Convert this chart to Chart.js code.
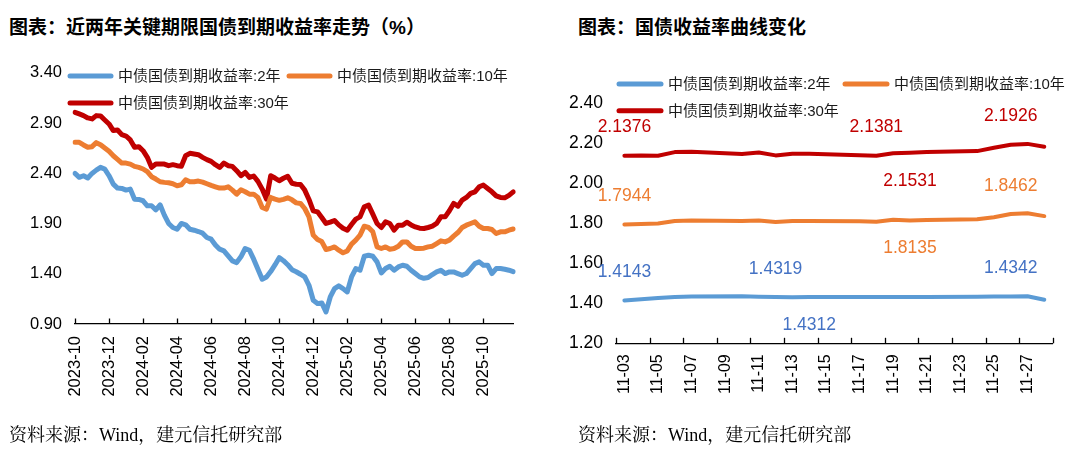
<!DOCTYPE html>
<html><head><meta charset="utf-8">
<script src="https://cdn.jsdelivr.net/npm/chart.js@4.4.1/dist/chart.umd.min.js"></script>
<style>
html,body{margin:0;padding:0;background:#fff;width:1080px;height:456px;overflow:hidden;}
.t{position:absolute;font-family:"Liberation Sans","Noto Sans CJK SC",sans-serif;font-weight:bold;font-size:19px;line-height:20px;color:#000;top:18px;white-space:nowrap;}
.src{position:absolute;font-family:"Liberation Serif","Noto Serif CJK SC","Noto Sans CJK SC",serif;font-size:18px;line-height:20px;color:#000;top:425px;white-space:nowrap;}
.box{position:absolute;top:0;height:456px;}
</style></head>
<body>
<div class="t" style="left:9px">图表：近两年关键期限国债到期收益率走势（%）</div>
<div class="t" style="left:578px">图表：国债收益率曲线变化</div>
<div class="box" style="left:0;width:545px"><canvas id="c1"></canvas></div>
<div class="box" style="left:545px;width:535px"><canvas id="c2"></canvas></div>
<div class="src" style="left:9px">资料来源：Wind，建元信托研究部</div>
<div class="src" style="left:578px">资料来源：Wind，建元信托研究部</div>
<script>
// ---------- DATA: left chart (weekly samples, 4 per month) ----------
const months = ['2023-10','2023-11','2023-12','2024-01','2024-02','2024-03','2024-04','2024-05','2024-06','2024-07','2024-08','2024-09','2024-10','2024-11','2024-12','2025-01','2025-02','2025-03','2025-04','2025-05','2025-06','2025-07','2025-08','2025-09','2025-10','2025-11'];
const tickMonths = ['2023-10','2023-12','2024-02','2024-04','2024-06','2024-08','2024-10','2024-12','2025-02','2025-04','2025-06','2025-08','2025-10'];
const leftTicks = [0.90,1.40,1.90,2.40,2.90,3.40];
const y2Left = [2.398,2.359,2.375,2.352,2.398,2.431,2.458,2.441,2.375,2.292,2.252,2.249,2.232,2.242,2.142,2.139,2.126,2.076,2.076,2.036,2.086,1.983,1.900,1.860,1.843,1.900,1.887,1.843,1.833,1.820,1.804,1.761,1.744,1.687,1.644,1.628,1.578,1.528,1.511,1.568,1.651,1.634,1.545,1.445,1.345,1.368,1.422,1.488,1.560,1.530,1.490,1.440,1.420,1.395,1.368,1.285,1.136,1.103,1.110,1.020,1.169,1.252,1.279,1.252,1.219,1.368,1.452,1.435,1.574,1.584,1.574,1.518,1.408,1.452,1.475,1.435,1.468,1.485,1.475,1.435,1.402,1.369,1.355,1.362,1.392,1.418,1.435,1.402,1.418,1.418,1.402,1.385,1.402,1.452,1.501,1.518,1.485,1.485,1.402,1.452,1.452,1.445,1.435,1.420];
const y10Left = [2.707,2.707,2.681,2.658,2.664,2.704,2.684,2.651,2.618,2.574,2.538,2.501,2.501,2.491,2.468,2.458,2.442,2.415,2.365,2.342,2.315,2.309,2.305,2.295,2.275,2.285,2.335,2.315,2.315,2.322,2.312,2.295,2.279,2.265,2.252,2.252,2.265,2.232,2.192,2.235,2.216,2.192,2.192,2.159,2.059,2.043,2.159,2.142,2.130,2.140,2.155,2.135,2.105,2.099,2.049,1.966,1.784,1.740,1.720,1.641,1.651,1.667,1.634,1.608,1.627,1.694,1.734,1.784,1.873,1.860,1.817,1.667,1.651,1.667,1.644,1.651,1.674,1.717,1.717,1.674,1.651,1.651,1.654,1.667,1.674,1.700,1.727,1.717,1.734,1.774,1.810,1.860,1.883,1.900,1.916,1.873,1.850,1.850,1.840,1.800,1.817,1.817,1.833,1.845];
const y30Left = [3.006,2.990,2.973,2.950,2.940,2.973,2.970,2.930,2.890,2.824,2.830,2.784,2.770,2.731,2.658,2.664,2.624,2.558,2.458,2.491,2.491,2.491,2.475,2.485,2.475,2.470,2.574,2.598,2.591,2.584,2.558,2.535,2.518,2.485,2.458,2.501,2.475,2.468,2.425,2.375,2.408,2.358,2.372,2.319,2.242,2.143,2.375,2.352,2.325,2.350,2.370,2.300,2.290,2.288,2.232,2.139,2.026,2.016,1.960,1.900,1.913,1.930,1.886,1.853,1.833,1.890,1.943,1.966,2.066,2.082,1.993,1.900,1.860,1.916,1.900,1.833,1.883,1.883,1.913,1.886,1.866,1.853,1.850,1.860,1.873,1.900,1.966,1.966,2.026,2.099,2.072,2.132,2.159,2.199,2.215,2.265,2.282,2.248,2.215,2.175,2.159,2.155,2.180,2.215];

// ---------- DATA: right chart (calendar days, weekends empty) ----------
const days = ['11-03','11-04','11-05','11-06','11-07','11-08','11-09','11-10','11-11','11-12','11-13','11-14','11-15','11-16','11-17','11-18','11-19','11-20','11-21','11-22','11-23','11-24','11-25','11-26','11-27','11-28'];
const rightTicks = [1.20,1.40,1.60,1.80,2.00,2.20,2.40];
const y2Right  = [1.4143,1.420,1.426,1.432,1.434,null,null,1.435,1.433,1.4319,1.430,1.4312,null,null,1.432,1.432,1.432,1.431,1.431,null,null,1.433,1.434,1.4342,1.435,1.418];
const y10Right = [1.7944,1.797,1.799,1.811,1.814,null,null,1.812,1.814,1.806,1.811,1.812,null,null,1.810,1.808,1.818,1.8135,1.816,null,null,1.820,1.830,1.8462,1.850,1.836];
const y30Right = [2.1376,2.139,2.138,2.156,2.158,null,null,2.147,2.154,2.1395,2.148,2.148,null,null,2.140,2.1381,2.150,2.1531,2.157,null,null,2.161,2.178,2.1926,2.197,2.183];
const seriesNames = ['中债国债到期收益率:2年','中债国债到期收益率:10年','中债国债到期收益率:30年'];

// ---------- styles ----------
const BLUE='#5B9BD5', ORANGE='#ED7D31', RED='#C00000';
const LABEL_COLORS=['#4472C4','#ED7D31','#C00000'];
const FAM='"Liberation Sans","Noto Sans CJK SC",sans-serif';
Chart.defaults.font.family=FAM;
Chart.defaults.color='#000';

const leftLabels=[];
months.forEach(m=>{for(let k=0;k<4;k++) leftLabels.push(m);});
const leftTickIdx = tickMonths.map(m=>leftLabels.indexOf(m));

// inward tick marks on x axis
const innerTicks={id:'innerTicks',afterDraw(chart,args,opts){
  const s=chart.scales.x, ctx=chart.ctx;
  ctx.save();ctx.strokeStyle='#000';ctx.lineWidth=1.3;
  opts.values.forEach(v=>{
    const x=Math.round(s.getPixelForValue(v))+0.5;
    ctx.beginPath();ctx.moveTo(x,s.top);ctx.lineTo(x,s.top-(opts.len||5.5));ctx.stroke();
  });
  ctx.restore();
}};
// legend drawn inside the plot
const insideLegend={id:'insideLegend',afterDraw(chart,args,opts){
  const ctx=chart.ctx;ctx.save();
  opts.items.forEach(it=>{
    const ds=chart.data.datasets[it.ds];
    ctx.strokeStyle=ds.borderColor;ctx.lineWidth=opts.lineWidth||5;ctx.lineCap='round';
    ctx.beginPath();ctx.moveTo(it.x+2,it.y);ctx.lineTo(it.x+opts.len-2,it.y);ctx.stroke();
    ctx.fillStyle='#1a1a1a';ctx.font=opts.font;ctx.textBaseline='middle';ctx.textAlign='left';
    ctx.fillText(ds.label,it.x+opts.len+opts.gap,it.y+1);
  });
  ctx.restore();
}};
// value labels
const valueLabels={id:'valueLabels',afterDatasetsDraw(chart,args,opts){
  if(!opts.items) return;
  const ctx=chart.ctx;ctx.save();
  ctx.font=opts.font;ctx.textAlign='center';ctx.textBaseline='middle';
  opts.items.forEach(it=>{
    const idx=chart.data.labels.indexOf(it.day);
    const pt=chart.getDatasetMeta(it.ds).data[idx];
    const v=chart.data.datasets[it.ds].data[idx];
    ctx.fillStyle=LABEL_COLORS[it.ds];
    ctx.fillText(v.toFixed(4),pt.x,pt.y+it.dy);
  });
  ctx.restore();
}};

function ds(label,data,color,w){return {label,data,borderColor:color,backgroundColor:color,borderWidth:w,pointRadius:0,tension:0,borderJoinStyle:'round',borderCapStyle:'round',spanGaps:true,fill:false};}

new Chart(document.getElementById('c1'),{
  type:'line',
  data:{labels:leftLabels,datasets:[ds(seriesNames[0],y2Left,BLUE,5),ds(seriesNames[1],y10Left,ORANGE,5),ds(seriesNames[2],y30Left,RED,5)]},
  options:{
    responsive:true,maintainAspectRatio:false,animation:false,
    layout:{padding:{left:0,right:30,top:72.7,bottom:0}},
    plugins:{legend:{display:false},tooltip:{enabled:false},
      innerTicks:{values:leftTickIdx},
      insideLegend:{len:45,gap:5,lineWidth:5,font:'15px '+FAM,items:[{ds:0,x:68,y:76},{ds:1,x:287,y:76},{ds:2,x:68,y:103}]}},
    scales:{
      x:{type:'category',offset:false,grid:{display:false,drawTicks:false},border:{display:true,color:'#000',width:1.3},
        ticks:{autoSkip:false,minRotation:90,maxRotation:90,padding:12,font:{size:16.5},color:'#000',
          callback:function(v,i){return leftTickIdx.includes(i)?leftLabels[i]:'';}},
        afterFit:s=>{s.height=132;}},
      y:{min:0.9,max:3.4,grid:{display:false,drawTicks:false},border:{display:false},
        ticks:{padding:13,font:{size:16.5},color:'#000',callback:v=>Number(v).toFixed(2)},
        afterBuildTicks:s=>{s.ticks=leftTicks.map(v=>({value:v}));},
        afterFit:s=>{s.width=75;}}
    }
  },
  plugins:[innerTicks,insideLegend]
});

const rightTickVals=[];
for(let i=0;i<=days.length;i+=2) rightTickVals.push(i-0.5);
new Chart(document.getElementById('c2'),{
  type:'line',
  data:{labels:days,datasets:[ds(seriesNames[0],y2Right,BLUE,4),ds(seriesNames[1],y10Right,ORANGE,4),ds(seriesNames[2],y30Right,RED,4)]},
  options:{
    responsive:true,maintainAspectRatio:false,animation:false,
    layout:{padding:{left:0,right:27.3,top:103.3,bottom:0}},
    plugins:{legend:{display:false},tooltip:{enabled:false},
      innerTicks:{values:rightTickVals},
      insideLegend:{len:46,gap:5,lineWidth:5,font:'15px '+FAM,items:[{ds:0,x:72,y:84},{ds:1,x:298,y:84},{ds:2,x:72,y:110.7}]},
      valueLabels:{font:'17.5px '+FAM,items:[
        {ds:2,day:'11-03',dy:-29},{ds:2,day:'11-18',dy:-29},{ds:2,day:'11-20',dy:28},{ds:2,day:'11-26',dy:-29},
        {ds:1,day:'11-03',dy:-28},{ds:1,day:'11-20',dy:28},{ds:1,day:'11-26',dy:-28},
        {ds:0,day:'11-03',dy:-28},{ds:0,day:'11-12',dy:-28},{ds:0,day:'11-14',dy:28},{ds:0,day:'11-26',dy:-28}]}},
    scales:{
      x:{type:'category',offset:true,grid:{display:false,drawTicks:false},border:{display:true,color:'#000',width:1.3},
        ticks:{autoSkip:false,minRotation:90,maxRotation:90,padding:11,font:{size:16},color:'#000',
          callback:function(v,i){return i%2===0?days[i]:'';}},
        afterFit:s=>{s.height=112.7;}},
      y:{min:1.2,max:2.4,grid:{display:false,drawTicks:false},border:{display:false},
        ticks:{padding:13,font:{size:17.5},color:'#000',callback:v=>Number(v).toFixed(2)},
        afterBuildTicks:s=>{s.ticks=rightTicks.map(v=>({value:v}));},
        afterFit:s=>{s.width=71;}}
    }
  },
  plugins:[innerTicks,insideLegend,valueLabels]
});
</script>
</body></html>
